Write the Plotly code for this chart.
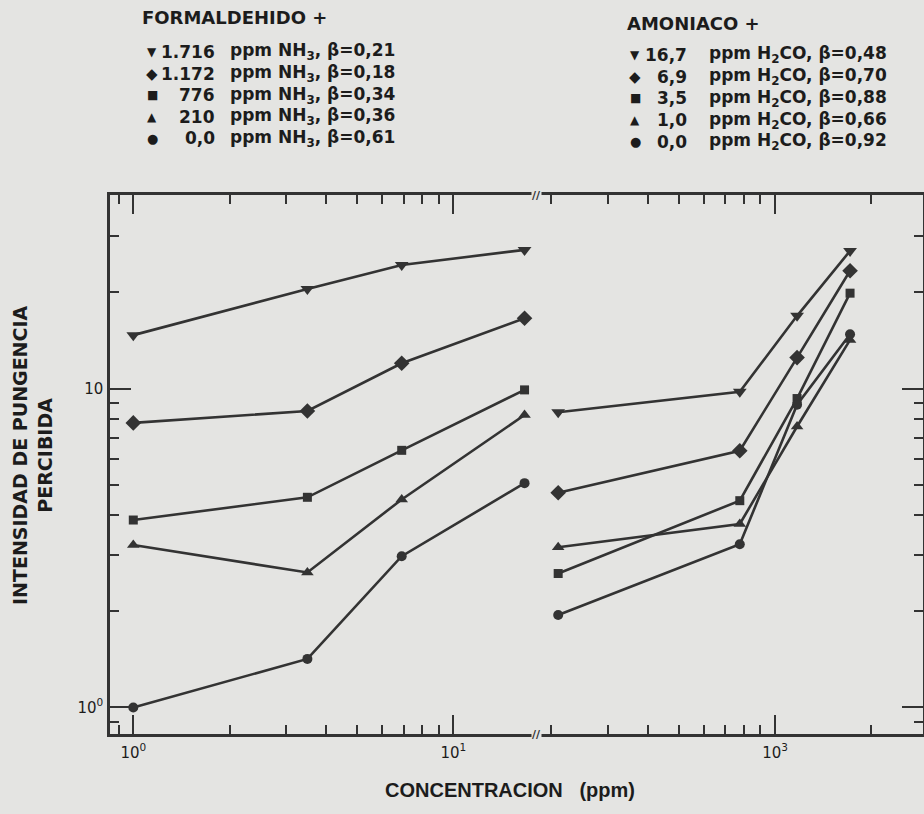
import plotly.graph_objects as go

# ---- data -------------------------------------------------------------
# Left panel: perceived pungency vs formaldehyde concentration (ppm)
h2co_ppm = [1.0, 3.5, 6.9, 16.7]
form_nh3_1716 = [14.7, 20.5, 24.4, 27.2]
form_nh3_1172 = [7.8, 8.5, 12.0, 16.6]
form_nh3_776 = [3.87, 4.56, 6.4, 9.9]
form_nh3_210 = [3.23, 2.65, 4.49, 8.26]
form_nh3_0 = [1.0, 1.42, 2.98, 5.05]

# Right panel: perceived pungency vs ammonia concentration (ppm)
nh3_ppm = [210, 776, 1172, 1716]
amon_h2co_167 = [8.42, 9.77, 16.9, 27.0]
amon_h2co_69 = [4.71, 6.38, 12.5, 23.4]
amon_h2co_35 = [2.63, 4.45, 9.3, 19.9]
amon_h2co_10 = [3.18, 3.76, 7.6, 14.2]
amon_h2co_00 = [1.95, 3.25, 8.9, 14.8]

# Legend text
form_levels = ["1.716", "1.172", "776", "210", "0,0"]
form_betas = ["0,21", "0,18", "0,34", "0,36", "0,61"]
amon_levels = ["16,7", "6,9", "3,5", "1,0", "0,0"]
amon_betas = ["0,48", "0,70", "0,88", "0,66", "0,92"]

symbols = ["triangle-down", "diamond", "square", "triangle-up", "circle"]
glyphs = ["▼", "◆", "■", "▲", "●"]
glyph_sizes = [12, 15, 12, 12, 13]
marker_sizes = [12, 12, 9, 11, 10]

# Axis ticks
x_left_major = [1, 10]
x_left_major_text = ["10<sup>0</sup>", "10<sup>1</sup>"]
x_left_minor = [0.9, 2, 3, 4, 5, 6, 7, 8, 9]
x_right_major = [1000]
x_right_major_text = ["10<sup>3</sup>"]
x_right_minor = [200, 300, 400, 500, 600, 700, 800, 900, 2000]
y_major = [1, 10]
y_major_text = ["10<sup>0</sup>", "10"]
y_minor = [0.9, 2, 3, 4, 5, 6, 7, 8, 9, 20, 30]

# ---- styling ------------------------------------------------------------
W, H = 924, 814
ML, MR, MT, MB = 110, 1, 195, 80
PW, PH = W - ML - MR, H - MT - MB
BG = "#e4e4e2"
INK = "#333333"
TXT = "#1c1c1c"
LEG_FONT = "DejaVu Sans, sans-serif"

split = 0.5252  # fraction of plot width taken by the formaldehyde panel


def paper(xp, yp):
    return (xp - ML) / PW, (H - MB - yp) / PH


form_series = [form_nh3_1716, form_nh3_1172, form_nh3_776, form_nh3_210, form_nh3_0]
amon_series = [amon_h2co_167, amon_h2co_69, amon_h2co_35, amon_h2co_10, amon_h2co_00]

fig = go.Figure()

for ys, sym, ms in zip(form_series, symbols, marker_sizes):
    fig.add_trace(go.Scatter(
        x=h2co_ppm, y=ys, xaxis="x", yaxis="y", mode="lines+markers",
        line=dict(color=INK, width=2.6),
        marker=dict(symbol=sym, size=ms, color=INK),
        showlegend=False, hoverinfo="skip"))

for ys, sym, ms in zip(amon_series, symbols, marker_sizes):
    fig.add_trace(go.Scatter(
        x=nh3_ppm, y=ys, xaxis="x2", yaxis="y2", mode="lines+markers",
        line=dict(color=INK, width=2.6),
        marker=dict(symbol=sym, size=ms, color=INK),
        showlegend=False, hoverinfo="skip"))

tickfont = dict(family="DejaVu Sans, sans-serif", size=15, color=TXT)
axis_common = dict(
    type="log", showline=True, linecolor=INK, linewidth=2.5,
    ticks="inside", tickcolor=INK, tickwidth=2, showgrid=False,
    zeroline=False, tickfont=tickfont, tickmode="array",
)


def minor(vals):
    return dict(tickmode="array", tickvals=vals, ticks="inside",
                ticklen=9, tickwidth=2, tickcolor=INK, showgrid=False)


y_lo, y_hi = -0.0831, 1.6066

fig.update_layout(
    width=W, height=H,
    margin=dict(l=ML, r=MR, t=MT, b=MB, pad=0),
    paper_bgcolor=BG, plot_bgcolor=BG,
    xaxis=dict(axis_common, domain=[0, split], anchor="y",
               range=[-0.0728, 1.2616], mirror="ticks", ticklen=19,
               tickvals=x_left_major, ticktext=x_left_major_text,
               minor=minor(x_left_minor), ticklabelstandoff=3),
    xaxis2=dict(axis_common, domain=[split, 1], anchor="y2",
                range=[2.256, 3.4625], mirror="ticks", ticklen=19,
                tickvals=x_right_major, ticktext=x_right_major_text,
                minor=minor(x_right_minor), ticklabelstandoff=3),
    yaxis=dict(axis_common, domain=[0, 1], anchor="x", side="left",
               range=[y_lo, y_hi], ticklen=21,
               tickvals=y_major, ticktext=y_major_text,
               minor=minor(y_minor), ticklabelstandoff=1),
    yaxis2=dict(axis_common, domain=[0, 1], anchor="x2", side="right",
                overlaying="y", range=[y_lo, y_hi], ticklen=21,
                tickvals=y_major, showticklabels=False,
                minor=minor(y_minor)),
)

ann = []


def add_text(xp, yp, text, size=17, xanchor="left", family=LEG_FONT, angle=0):
    x, y = paper(xp, yp)
    ann.append(dict(x=x, y=y, xref="paper", yref="paper", text=text,
                    showarrow=False, xanchor=xanchor, yanchor="middle",
                    textangle=angle,
                    font=dict(family=family, size=size, color=TXT)))


# Legend blocks
add_text(140, 17, "<b>FORMALDEHIDO +</b>", size=18)
for i in range(5):
    yp = 52 + 21.6 * i
    add_text(152, yp, glyphs[i], size=glyph_sizes[i], xanchor="center")
    add_text(217, yp, f"<b>{form_levels[i]}</b>", xanchor="right")
    add_text(228, yp, f"<b>ppm NH<sub>3</sub>, β={form_betas[i]}</b>")

add_text(625, 24, "<b>AMONIACO +</b>", size=18)
for i in range(5):
    yp = 55 + 21.7 * i
    add_text(635, yp, glyphs[i], size=glyph_sizes[i], xanchor="center")
    add_text(689, yp, f"<b>{amon_levels[i]}</b>", xanchor="right")
    add_text(707, yp, f"<b>ppm H<sub>2</sub>CO, β={amon_betas[i]}</b>")

# Axis titles
add_text(510, 790, "<b>CONCENTRACION&nbsp;&nbsp;&nbsp;(ppm)</b>", size=20,
         xanchor="center",
         family="Liberation Sans Narrow, Liberation Sans, sans-serif")
add_text(32, 455, "<b>INTENSIDAD DE PUNGENCIA<br>PERCIBIDA</b>", size=19,
         xanchor="center", angle=-90)

# Axis break marks
for yy in (0, 1):
    ann.append(dict(x=split, y=yy, xref="paper", yref="paper", text="<b>//</b>",
                    showarrow=False, xanchor="center", yanchor="middle",
                    bgcolor=BG, borderpad=0,
                    font=dict(family=LEG_FONT, size=11, color=INK)))

fig.update_layout(annotations=ann)

fig.write_html("out.html")
